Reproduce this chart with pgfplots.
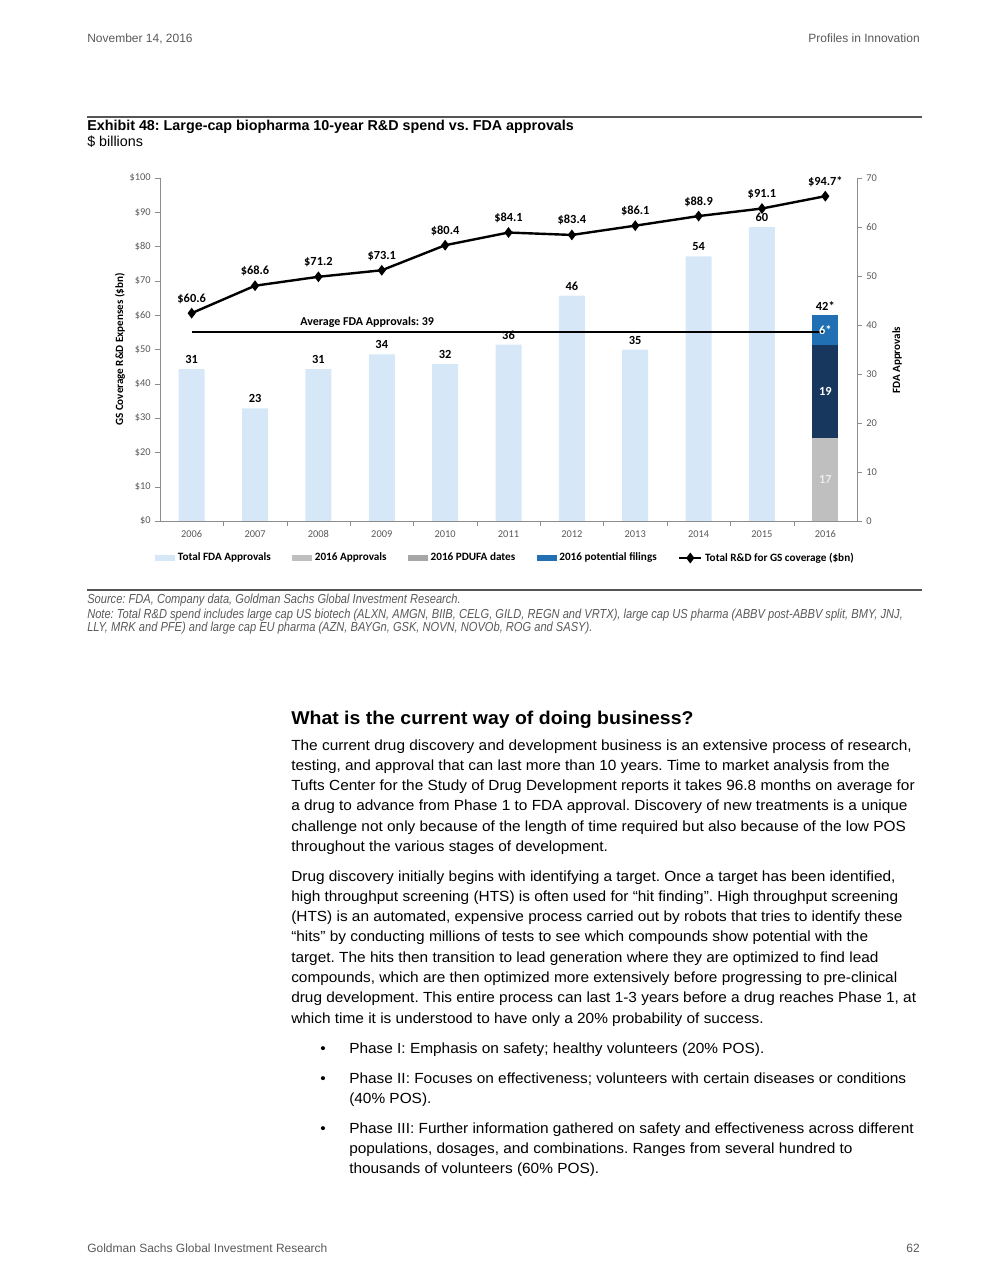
\documentclass[border=0pt]{standalone}
\usepackage{pgfplots}
\pgfplotsset{compat=1.18}
\usepackage{fontspec}
\setmainfont{Liberation Sans}
\newfontfamily\chartfont{Carlito}
\newfontfamily\condfont[FakeStretch=0.85]{Liberation Sans}
\newfontfamily\widefont[FakeStretch=1.05]{Liberation Sans}
\frenchspacing

\definecolor{fdablue}{HTML}{D6E8F7}
\definecolor{apprgray}{HTML}{BFBFBF}
\definecolor{pdufagray}{HTML}{A6A6A6}
\definecolor{pdufanavy}{HTML}{17375E}
\definecolor{filblue}{HTML}{2270B4}
\definecolor{axgray}{HTML}{8C8C8C}
\definecolor{txtgray}{HTML}{595959}
\definecolor{rulegray}{HTML}{555555}

\newcommand\bodyfont{\widefont\fontsize{11}{15}\selectfont}
\newcommand\lblfont{\chartfont\bfseries\fontsize{9.3}{10}\selectfont}

\pgfplotsset{
  base/.style={
    scale only axis, width=522.75pt, height=257.25pt,
    at={(120pt,-390.75pt)}, anchor=south west,
    xmin=-0.5, xmax=10.5,
    axis line style={axgray},
    tick style={axgray},
    tick align=outside,
    major tick length=3.5pt,
    minor tick length=3.5pt,
    ticklabel style={font=\chartfont\fontsize{7.8}{9}\selectfont, text=txtgray},
    label style={font=\chartfont\bfseries\fontsize{8.3}{9}\selectfont},
    /pgf/number format/assume math mode=true,
  },
  approvals/.style={base, ymin=0, ymax=70},
  box legend/.style={legend image code/.code={\fill[##1] (0pt,-2.3pt) rectangle (15pt,2.3pt);}},
  line legend rd/.style={legend image code/.code={\draw[##1,mark repeat=2,mark phase=2] plot coordinates {(0pt,0pt) (8.25pt,0pt) (16.5pt,0pt)};}},
}

\begin{document}
\begin{tikzpicture}
\begin{scope}[x=0.75pt,y=-0.75pt]
\path[use as bounding box] (0,0) rectangle (989,1280);
\node[anchor=base west, inner sep=0, font=\fontsize{9}{11}\selectfont, text=txtgray] at (87,43) {November 14, 2016};
\node[anchor=base east, inner sep=0, font=\fontsize{9}{11}\selectfont, text=txtgray] at (920,43) {Profiles in Innovation};
\draw[rulegray, line width=1.3pt] (87,117) -- (922,117);
\node[anchor=base west, inner sep=0, font=\bfseries\fontsize{10.75}{12}\selectfont] at (87,131) {Exhibit 48: Large-cap biopharma 10-year R\&D spend vs. FDA approvals};
\node[anchor=base west, inner sep=0, font=\fontsize{10.75}{12}\selectfont] at (87,147) {\$ billions};
\draw[rulegray, line width=1.3pt] (87,590) -- (922,590);
\node[anchor=base west, inner sep=0, font=\condfont\itshape\fontsize{9.8}{11}\selectfont, text=txtgray] at (87,603) {Source: FDA, Company data, Goldman Sachs Global Investment Research.};
\node[anchor=base west, inner sep=0, font=\condfont\itshape\fontsize{9.8}{11}\selectfont, text=txtgray] at (87,618) {Note: Total R\&D spend includes large cap US biotech (ALXN, AMGN, BIIB, CELG, GILD, REGN and VRTX), large cap US pharma (ABBV post-ABBV split, BMY, JNJ,};
\node[anchor=base west, inner sep=0, font=\condfont\itshape\fontsize{9.8}{11}\selectfont, text=txtgray] at (87,631) {LLY, MRK and PFE) and large cap EU pharma (AZN, BAYGn, GSK, NOVN, NOVOb, ROG and SASY).};

\node[anchor=base west, inner sep=0, font=\widefont\bfseries\fontsize{13.9}{16}\selectfont] at (291,724) {What is the current way of doing business?};

\begin{scope}[every node/.style={anchor=base west, inner sep=0, font=\bodyfont}]
\node at (291,750.0) {The current drug discovery and development business is an extensive process of research,};
\node at (291,770.3) {testing, and approval that can last more than 10 years. Time to market analysis from the};
\node at (291,790.6) {Tufts Center for the Study of Drug Development reports it takes 96.8 months on average for};
\node at (291,810.9) {a drug to advance from Phase 1 to FDA approval. Discovery of new treatments is a unique};
\node at (291,831.2) {challenge not only because of the length of time required but also because of the low POS};
\node at (291,851.5) {throughout the various stages of development.};

\node at (291,881.0) {Drug discovery initially begins with identifying a target. Once a target has been identified,};
\node at (291,901.3) {high throughput screening (HTS) is often used for “hit finding”. High throughput screening};
\node at (291,921.6) {(HTS) is an automated, expensive process carried out by robots that tries to identify these};
\node at (291,941.9) {“hits” by conducting millions of tests to see which compounds show potential with the};
\node at (291,962.2) {target. The hits then transition to lead generation where they are optimized to find lead};
\node at (291,982.5) {compounds, which are then optimized more extensively before progressing to pre-clinical};
\node at (291,1002.8) {drug development. This entire process can last 1-3 years before a drug reaches Phase 1, at};
\node at (291,1023.1) {which time it is understood to have only a 20\% probability of success.};

\node at (320,1053) {•};
\node at (349,1053) {Phase I: Emphasis on safety; healthy volunteers (20\% POS).};
\node at (320,1083) {•};
\node at (349,1083) {Phase II: Focuses on effectiveness; volunteers with certain diseases or conditions};
\node at (349,1103.3) {(40\% POS).};
\node at (320,1133) {•};
\node at (349,1133) {Phase III: Further information gathered on safety and effectiveness across different};
\node at (349,1153.3) {populations, dosages, and combinations. Ranges from several hundred to};
\node at (349,1173.6) {thousands of volunteers (60\% POS).};
\end{scope}

\node[anchor=base west, inner sep=0, font=\fontsize{9}{11}\selectfont, text=txtgray] at (87,1252) {Goldman Sachs Global Investment Research};
\node[anchor=base east, inner sep=0, font=\fontsize{9}{11}\selectfont, text=txtgray] at (920,1252) {62};
\end{scope}

% right axis: FDA approvals, 2016 stacked bar
\begin{axis}[approvals,
  axis x line=none, axis y line*=right,
  ytick={0,10,...,70},
  ylabel={FDA Approvals},
  y label style={at={(axis description cs:1.0574,0.469)}, anchor=center},
  ybar stacked, bar width=19.5pt,
]
\addplot[fill=apprgray, draw=none] coordinates {(10,17)};
\addplot[fill=pdufanavy, draw=none] coordinates {(10,19)};
\addplot[fill=filblue, draw=none] coordinates {(10,6)};
\end{axis}

% total FDA approvals 2006-2015, average line, 2016 labels
\begin{axis}[approvals, hide axis]
\addplot[ybar, bar width=19.5pt, bar shift=0pt, fill=fdablue, draw=none,
  nodes near coords, point meta=y,
  every node near coord/.append style={font=\lblfont, text=black, anchor=south, yshift=0.5pt}]
  coordinates {(0,31) (1,23) (2,31) (3,34) (4,32) (5,36) (6,46) (7,35) (8,54) (9,60)};
\addplot[black, line width=1.3pt] coordinates {(0,38.5) (10,38.5)};
\node[font=\chartfont\bfseries\fontsize{9}{10}\selectfont] at (axis cs:2.77,40.6) {Average FDA Approvals: 39};
\node[font=\lblfont, text=white!92!black] at (axis cs:10,8.5) {17};
\node[font=\lblfont, text=white] at (axis cs:10,26.5) {19};
\node[font=\lblfont, text=white] at (axis cs:10,39) {6*};
\node[font=\lblfont, anchor=south, yshift=0pt] at (axis cs:10,42) {42*};
\end{axis}

% left axis: R&D spend
\begin{axis}[base, ymin=0, ymax=100,
  axis y line*=left, axis x line*=bottom,
  ytick={0,10,...,100}, yticklabel={\$\pgfmathprintnumber{\tick}},
  xtick={0,...,10},
  xticklabels={2006,2007,2008,2009,2010,2011,2012,2013,2014,2015,2016},
  minor xtick={0.5,1.5,...,9.5},
  major x tick style={draw=none},
  ylabel={GS Coverage R\&D Expenses (\$bn)},
  y label style={at={(axis description cs:-0.0574,0.5)}, anchor=center},
  legend style={at={(0.5,0)}, anchor=center, yshift=-27.75pt, xshift=-2pt,
    draw=none, fill=none, legend columns=5,
    font=\chartfont\bfseries\fontsize{8.4}{9}\selectfont,
    /tikz/every even column/.append style={column sep=14pt}},
  box legend,
]
\addlegendimage{fill=fdablue, draw=none}
\addlegendentry{Total FDA Approvals}
\addlegendimage{fill=apprgray, draw=none}
\addlegendentry{2016 Approvals}
\addlegendimage{fill=pdufagray, draw=none}
\addlegendentry{2016 PDUFA dates}
\addlegendimage{fill=filblue, draw=none}
\addlegendentry{2016 potential filings}
\addplot[black, line width=1.8pt, mark=diamond*, mark size=2.6pt, line legend rd,
  nodes near coords, point meta=explicit symbolic,
  every node near coord/.append style={font=\lblfont, text=black, anchor=south, yshift=3pt}]
  coordinates {(0,60.6)[\$60.6] (1,68.6)[\$68.6] (2,71.2)[\$71.2] (3,73.1)[\$73.1]
    (4,80.4)[\$80.4] (5,84.1)[\$84.1] (6,83.4)[\$83.4] (7,86.1)[\$86.1]
    (8,88.9)[\$88.9] (9,91.1)[\$91.1] (10,94.7)[\$94.7*]};
\addlegendentry{Total R\&D for GS coverage (\$bn)}
\end{axis}
\end{tikzpicture}
\end{document}
